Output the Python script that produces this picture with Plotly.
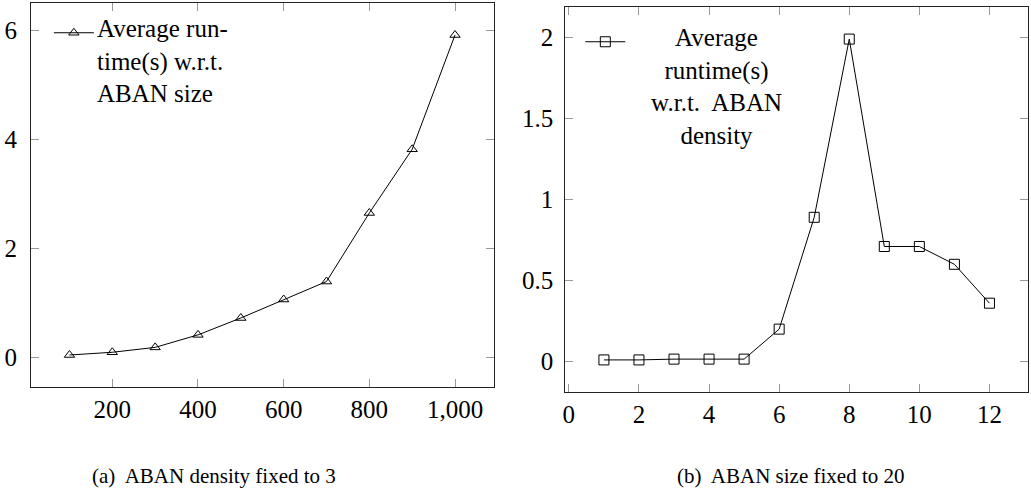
import plotly.graph_objects as go

# data
size_x = [100, 200, 300, 400, 500, 600, 700, 800, 900, 1000]
size_runtime = [0.04, 0.09, 0.18, 0.41, 0.72, 1.06, 1.39, 2.65, 3.82, 5.92]

density_x = [1, 2, 3, 4, 5, 6, 7, 8, 9, 10, 11, 12]
density_runtime = [0.01, 0.01, 0.015, 0.015, 0.015, 0.20, 0.89, 1.99, 0.71, 0.71, 0.60, 0.36]

W, H = 1031, 490
FONT = "Liberation Serif, Times New Roman, DejaVu Serif, serif"


# pgfplots style: enlarge limits by 10%
def enlarged(vals, frac=0.1):
    pad = (max(vals) - min(vals)) * frac
    return [min(vals) - pad, max(vals) + pad]


def px_x(p):
    return p / W


def px_y(p):
    return 1 - p / H


fig = go.Figure()

fig.add_trace(go.Scatter(
    x=size_x, y=size_runtime,
    mode='lines+markers',
    name='',
    line=dict(color='black', width=1),
    marker=dict(symbol='triangle-up-open', size=9, color='black',
                line=dict(width=1, color='black')),
    xaxis='x', yaxis='y', legend='legend',
))

fig.add_trace(go.Scatter(
    x=density_x, y=density_runtime,
    mode='lines+markers',
    name='',
    line=dict(color='black', width=1),
    marker=dict(symbol='square-open', size=10, color='black',
                line=dict(width=1, color='black')),
    xaxis='x2', yaxis='y2', legend='legend2',
))

axis_common = dict(
    showline=True, linecolor='#222', linewidth=1, mirror='ticks',
    ticks='inside', ticklen=8, tickcolor='#999', tickwidth=1,
    showgrid=False, zeroline=False,
    tickfont=dict(family=FONT, size=25, color='black'),
)

fig.update_layout(
    width=W, height=H,
    margin=dict(l=0, r=0, t=0, b=0),
    paper_bgcolor='white', plot_bgcolor='white',
    font=dict(family=FONT, size=25, color='black'),
    separators='.,',
    xaxis=dict(domain=[px_x(28), px_x(492)], range=enlarged(size_x),
               tickvals=[200, 400, 600, 800, 1000], tickformat=',d',
               ticklabelstandoff=0, anchor='y', **axis_common),
    yaxis=dict(domain=[px_y(387), px_y(3)], range=enlarged(size_runtime),
               tickvals=[0, 2, 4, 6], ticklabelstandoff=8, anchor='x',
               **axis_common),
    xaxis2=dict(domain=[px_x(564), px_x(1028)], range=enlarged(density_x),
                tickvals=[0, 2, 4, 6, 8, 10, 12], ticklabelstandoff=0,
                anchor='y2', **axis_common),
    yaxis2=dict(domain=[px_y(392), px_y(7)], range=enlarged(density_runtime),
                tickvals=[0, 0.5, 1, 1.5, 2], ticklabelstandoff=6,
                anchor='x2', **axis_common),
    legend=dict(x=px_x(46), y=px_y(10), xanchor='left', yanchor='top',
                bgcolor='rgba(0,0,0,0)', itemwidth=40,
                font=dict(family=FONT, size=25)),
    legend2=dict(x=px_x(579), y=px_y(19), xanchor='left', yanchor='top',
                 bgcolor='rgba(0,0,0,0)', itemwidth=40,
                 font=dict(family=FONT, size=25)),
    showlegend=True,
)

# legend texts (pgfplots wraps them in a text block)
fig.add_annotation(
    text='Average run-<br>time(s) w.r.t.<br>ABAN size',
    xref='paper', yref='paper', x=px_x(92), y=px_y(13),
    xanchor='left', yanchor='top', align='left', showarrow=False,
    font=dict(family=FONT, size=25, color='black'),
)
fig.add_annotation(
    text='Average<br>runtime(s)<br>w.r.t.\u00a0 ABAN<br>density',
    xref='paper', yref='paper', x=px_x(716), y=px_y(22),
    xanchor='center', yanchor='top', align='center', showarrow=False,
    font=dict(family=FONT, size=25, color='black'),
)

# sub-captions
fig.add_annotation(
    text='(a)\u00a0 ABAN density fixed to 3',
    xref='paper', yref='paper', x=px_x(212), y=px_y(476),
    xanchor='center', yanchor='middle', showarrow=False,
    font=dict(family=FONT, size=21, color='black'),
)
fig.add_annotation(
    text='(b)\u00a0 ABAN size fixed to 20',
    xref='paper', yref='paper', x=px_x(790), y=px_y(476),
    xanchor='center', yanchor='middle', showarrow=False,
    font=dict(family=FONT, size=21, color='black'),
)

# the page body has a default 8px margin; drop it so the figure fills the window
fig.write_html("out.html", config={'displayModeBar': False},
               post_script="document.body.style.margin = '0';")
